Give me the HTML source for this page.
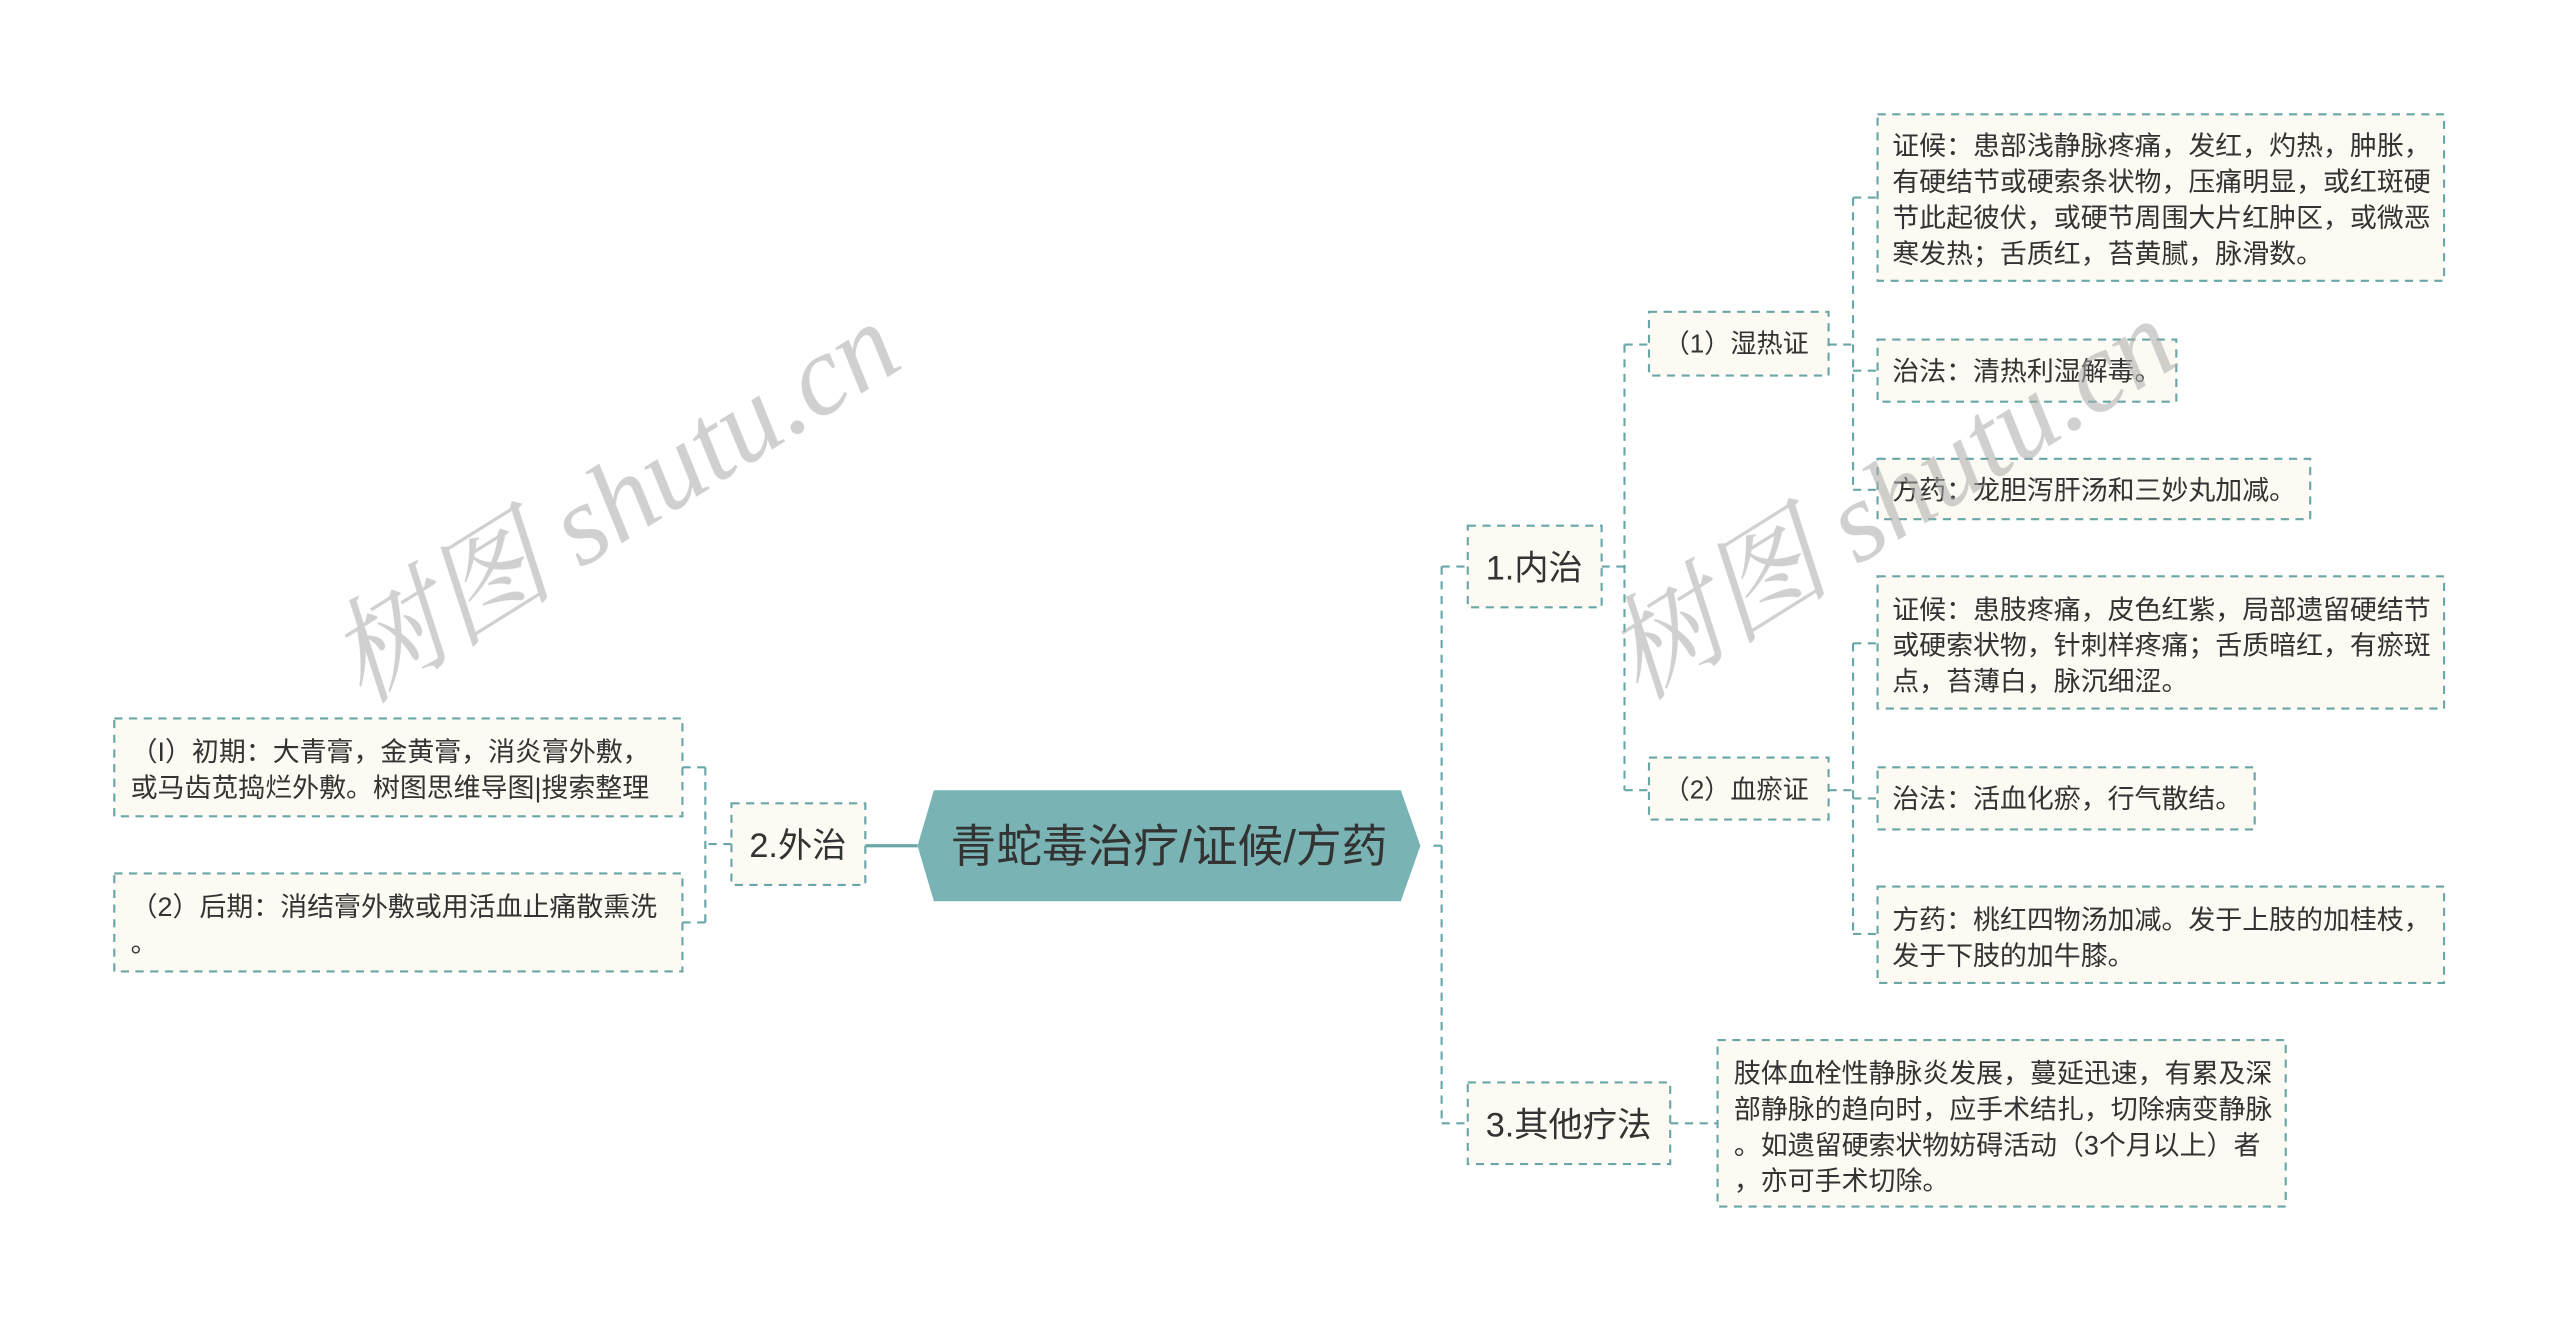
<!DOCTYPE html>
<html><head><meta charset="utf-8"><style>html,body{margin:0;padding:0;background:#fff}svg{display:block}</style></head>
<body>
<svg width="2560" height="1322" viewBox="0 0 1568 809.7" xmlns="http://www.w3.org/2000/svg" font-family="Liberation Sans, Noto Sans CJK SC, sans-serif">
<g fill="none" stroke="#6aa6a6" stroke-width="1.3" stroke-dasharray="5,4">
<path d="M878 518 H883 M883 347 V688 M883 347 H899 M883 688 H899"/>
<path d="M981 347 H995 M995 211 V484 M995 211 H1010 M995 484 H1010"/>
<path d="M1120 211 H1135 M1135 121 V300 M1135 121 H1150 M1135 227 H1150 M1135 300 H1150"/>
<path d="M1120 484 H1135 M1135 394 V572 M1135 394 H1150 M1135 489 H1150 M1135 572 H1150"/>
<path d="M1023 688 H1052"/>
<path d="M448 517 H432 M432 470 V565 M432 470 H418 M432 565 H418"/>
<rect x="899" y="322" width="82" height="50" fill="#fcfaf2"/>
<rect x="448" y="492" width="82" height="50" fill="#fcfaf2"/>
<rect x="899" y="663" width="124" height="50" fill="#fcfaf2"/>
<rect x="1010" y="191" width="110" height="39" fill="#fcfaf2"/>
<rect x="1010" y="464" width="110" height="38" fill="#fcfaf2"/>
<rect x="1150" y="70" width="347" height="102" fill="#fcfaf2"/>
<rect x="1150" y="208" width="183" height="38" fill="#fcfaf2"/>
<rect x="1150" y="281" width="265" height="37" fill="#fcfaf2"/>
<rect x="1150" y="353" width="347" height="81" fill="#fcfaf2"/>
<rect x="1150" y="470" width="231" height="38" fill="#fcfaf2"/>
<rect x="1150" y="543" width="347" height="59" fill="#fcfaf2"/>
<rect x="1052" y="637" width="348" height="102" fill="#fcfaf2"/>
<rect x="70" y="440" width="348" height="60" fill="#fcfaf2"/>
<rect x="70" y="535" width="348" height="60" fill="#fcfaf2"/>
</g>
<path d="M530 518 H562" stroke="#6aa6a6" stroke-width="2"/>
<polygon points="572,484 858,484 870,518 858,552 572,552 562,518" fill="#7ab3b3"/>
<text x="716" y="528" font-size="28" fill="#333" text-anchor="middle">青蛇毒治疗/证候/方药</text>
<g font-size="21" fill="#333">
<text x="910" y="355">1.内治</text>
<text x="459" y="525">2.外治</text>
<text x="910" y="696">3.其他疗法</text>
</g>
<g font-size="16" fill="#333">
<text x="1019" y="216">（1）湿热证</text>
<text x="1019" y="489">（2）血瘀证</text>
</g>
<g font-size="16.5" fill="#333">
<text x="1159" y="95">证候：患部浅静脉疼痛，发红，灼热，肿胀，</text>
<text x="1159" y="117">有硬结节或硬索条状物，压痛明显，或红斑硬</text>
<text x="1159" y="139">节此起彼伏，或硬节周围大片红肿区，或微恶</text>
<text x="1159" y="161">寒发热；舌质红，苔黄腻，脉滑数。</text>
<text x="1159" y="233">治法：清热利湿解毒。</text>
<text x="1159" y="306">方药：龙胆泻肝汤和三妙丸加减。</text>
<text x="1159" y="379">证候：患肢疼痛，皮色红紫，局部遗留硬结节</text>
<text x="1159" y="401">或硬索状物，针刺样疼痛；舌质暗红，有瘀斑</text>
<text x="1159" y="423">点，苔薄白，脉沉细涩。</text>
<text x="1159" y="495">治法：活血化瘀，行气散结。</text>
<text x="1159" y="569">方药：桃红四物汤加减。发于上肢的加桂枝，</text>
<text x="1159" y="591">发于下肢的加牛膝。</text>
<text x="1062" y="663">肢体血栓性静脉炎发展，蔓延迅速，有累及深</text>
<text x="1062" y="685">部静脉的趋向时，应手术结扎，切除病变静脉</text>
<text x="1062" y="707">。如遗留硬索状物妨碍活动（3个月以上）者</text>
<text x="1062" y="729">，亦可手术切除。</text>
<text x="80" y="466">（I）初期：大青膏，金黄膏，消炎膏外敷，</text>
<text x="80" y="488">或马齿苋捣烂外敷。树图思维导图|搜索整理</text>
<text x="80" y="561">（2）后期：消结膏外敷或用活血止痛散熏洗</text>
<text x="80" y="583">。</text>
</g>
<g font-family="Liberation Serif, Noto Serif CJK SC, serif" font-size="70" fill="#aaa" opacity="0.55" font-style="italic">
<text transform="translate(222,432) rotate(-32)">树图 shutu.cn</text>
<text transform="translate(1004,430) rotate(-32)">树图 shutu.cn</text>
</g>
</svg>
</body></html>
